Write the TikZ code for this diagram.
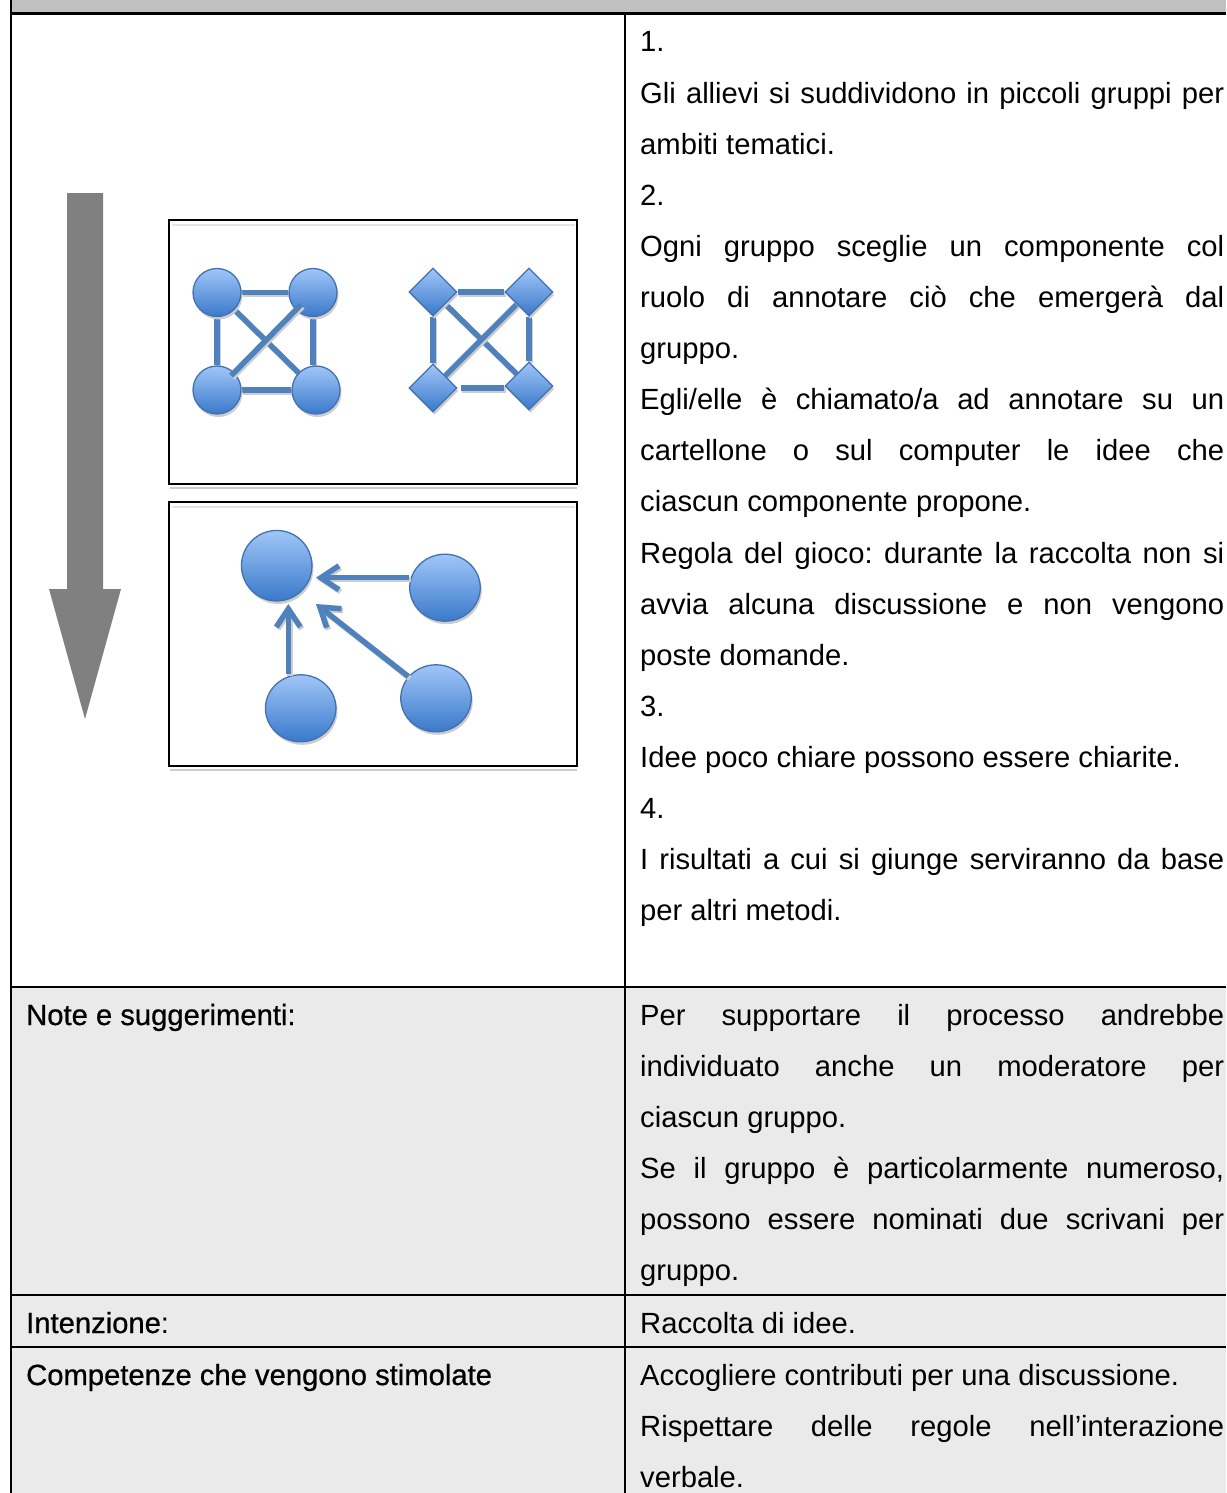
\documentclass[tikz,border=0pt]{standalone}
\usepackage{fontspec}
\setmainfont{Liberation Sans}
\newfontfamily\labfont[FakeBold=0.7]{Liberation Sans}
\usetikzlibrary{shapes.geometric,arrows.meta,shadows}
\pgfdeclarelayer{back}
\pgfdeclarelayer{bg}
\pgfdeclarelayer{front}
\pgfsetlayers{back,bg,main,front}
\definecolor{hdrgray}{RGB}{192,192,192}
\definecolor{rowgray}{RGB}{234,234,234}
\definecolor{arrgray}{RGB}{128,128,128}
\definecolor{ntop}{RGB}{160,198,248}
\definecolor{nbot}{RGB}{58,121,202}
\definecolor{nborder}{RGB}{66,113,178}
\definecolor{lcol}{RGB}{79,129,189}
\definecolor{shd}{RGB}{205,205,205}
\tikzset{
 tline/.style={line width=2.5pt, draw=black},
 boxframe/.style={draw=black, line width=2pt, inner sep=0pt, minimum width=408pt, minimum height=264pt},
 gnode/.style={draw=nborder, line width=1.3pt, top color=ntop, bottom color=nbot, inner sep=0pt,
   drop shadow={shadow xshift=1.5pt, shadow yshift=-3pt, fill=shd, opacity=1}},
 gcirc/.style={gnode, circle, minimum size=48pt},
 gdiam/.style={gnode, diamond, minimum width=48pt, minimum height=48pt},
 gell/.style={gnode, ellipse, minimum width=70.5pt, minimum height=67pt},
 bigcirc/.style={gnode, circle, minimum size=70.5pt},
 gline/.style={draw=lcol, line width=5.5pt,
   preaction={draw=shd, line width=5.5pt, transform canvas={xshift=1.5pt,yshift=-2pt}}},
 barrow/.style={gline, -{Straight Barb[length=18pt,width=24pt]}},
 txt/.style={anchor=base west, inner sep=0pt, font=\fontsize{29.2pt}{51.1pt}\selectfont},
}
\newcommand\jline[3]{\node[txt] (#1) at (640,#2) {\makebox[584pt][s]{#3}};}
\newcommand\pline[3]{\node[txt] (#1) at (640,#2) {#3};}
\begin{document}
\frenchspacing
\begin{tikzpicture}[x=1pt,y=-1pt]
\useasboundingbox (0,0) rectangle (1226,1493);
% backgrounds
\begin{pgfonlayer}{back}
\fill[hdrgray] (11,0) rectangle (1226,13);
\fill[rowgray] (11,987) rectangle (1226,1493);
\end{pgfonlayer}
% table lines
\draw[tline, line width=3pt] (11,13.5) -- (1226,13.5);
\draw[tline] (11,0) -- (11,1493);
\draw[tline] (625,13) -- (625,1493);
\draw[tline] (11,987) -- (1226,987);
\draw[tline] (11,1295) -- (1226,1295);
\draw[tline] (11,1347) -- (1226,1347);
% big gray arrow
\fill[arrgray] (67,193) -- (103,193) -- (103,589) -- (121,589) -- (85,719) -- (49,589) -- (67,589) -- cycle;
% boxes
\node[boxframe] (box1) at (373,352) {};
\node[boxframe] (box2) at (373,634) {};
\draw[shd, line width=2pt] (170,488) -- (577,488);
\draw[gray!20, line width=2pt] (172,225) -- (575,225);
\draw[shd, line width=2pt] (170,770) -- (577,770);
\draw[gray!20, line width=2pt] (172,507) -- (575,507);
% graph 1: circles
\node[gcirc] (c1) at (217,292.5) {};
\node[gcirc] (c2) at (313,292.5) {};
\node[gcirc] (c3) at (217,390) {};
\node[gcirc] (c4) at (316,390) {};
\begin{pgfonlayer}{bg}
\draw[gline] (c1) -- (c2);
\draw[gline] (c3) -- (c4);
\draw[gline] (c1) -- (c3);
\draw[gline] (c2) -- (c2 |- c4.north);
\draw[gline] (c1) -- (c4);
\end{pgfonlayer}
\begin{pgfonlayer}{front}
\draw[gline, shorten <=20pt, shorten >=17pt] (c3.center) -- (c2.center);
\end{pgfonlayer}
% graph 2: diamonds
\node[gdiam] (d1) at (433,292) {};
\node[gdiam] (d2) at (529,292) {};
\node[gdiam] (d3) at (433,388) {};
\node[gdiam] (d4) at (529,386) {};
\begin{pgfonlayer}{bg}
\draw[gline] (d1) -- (d2);
\draw[gline] (d1) -- (d3);
\draw[gline] (d2) -- (d4);
\draw[gline] (d1) -- (d4);
\draw[gline] (d3) -- (d2);
\draw[gline] ([xshift=3pt]d3.east) -- (d3.east -| d4.west);
\end{pgfonlayer}
% graph 3: arrows to big circle
\node[bigcirc] (big) at (276.7,565.7) {};
\node[gell] (rc) at (445,587.7) {};
\node[gell] (blc) at (300.7,708.3) {};
\node[gell] (brc) at (436,698.3) {};
\coordinate (t1) at (316,577.7);
\coordinate (t2) at (288.3,604);
\coordinate (t3) at (316,604);
\draw[barrow] (t1 -| rc.west) -- (t1);
\draw[barrow] (t2 |- blc.north) -- (t2);
\draw[barrow] (brc) -- (t3);
% right column text, row 1
\pline{r1}{52}{1.}
\jline{r2}{103.1}{Gli allievi si suddividono in piccoli gruppi per}
\pline{r3}{154.2}{ambiti tematici.}
\pline{r4}{205.3}{2.}
\jline{r5}{256.4}{Ogni gruppo sceglie un componente col}
\jline{r6}{307.5}{ruolo di annotare ciò che emergerà dal}
\pline{r7}{358.6}{gruppo.}
\jline{r8}{409.7}{Egli/elle è chiamato/a ad annotare su un}
\jline{r9}{460.8}{cartellone o sul computer le idee che}
\pline{r10}{511.9}{ciascun componente propone.}
\jline{r11}{563}{Regola del gioco: durante la raccolta non si}
\jline{r12}{614.1}{avvia alcuna discussione e non vengono}
\pline{r13}{665.2}{poste domande.}
\pline{r14}{716.3}{3.}
\pline{r15}{767.4}{Idee poco chiare possono essere chiarite.}
\pline{r16}{818.5}{4.}
\jline{r17}{869.6}{I risultati a cui si giunge serviranno da base}
\pline{r18}{920.7}{per altri metodi.}
% row 2
\node[txt] (lab1) at (26,1025) {\labfont Note e suggerimenti:};
\jline{n1}{1025}{Per supportare il processo andrebbe}
\jline{n2}{1076}{individuato anche un moderatore per}
\pline{n3}{1127}{ciascun gruppo.}
\jline{n4}{1178}{Se il gruppo è particolarmente numeroso,}
\jline{n5}{1229}{possono essere nominati due scrivani per}
\pline{n6}{1280}{gruppo.}
% row 3
\node[txt] (lab2) at (26,1333) {{\labfont Intenzione}:};
\pline{i1}{1333}{Raccolta di idee.}
% row 4
\node[txt] (lab3) at (26,1385) {\labfont Competenze che vengono stimolate};
\pline{k1}{1385}{Accogliere contributi per una discussione.}
\jline{k2}{1436}{Rispettare delle regole nell’interazione}
\pline{k3}{1487}{verbale.}
\end{tikzpicture}
\end{document}
